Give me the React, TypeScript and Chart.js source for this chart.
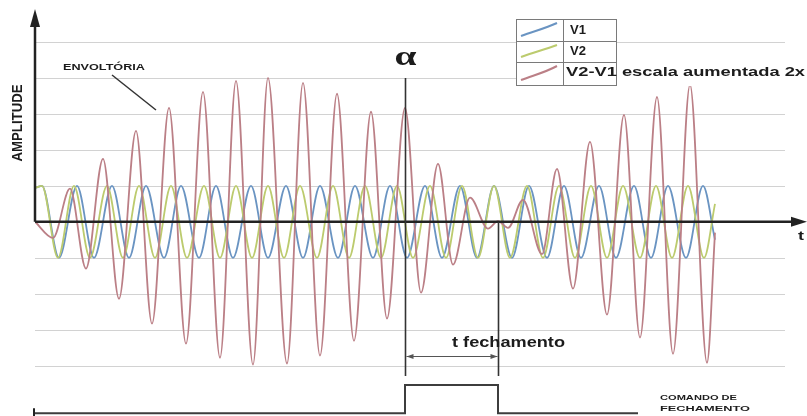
import React, { useEffect, useRef } from 'react';
import { Chart, registerables } from 'chart.js';

Chart.register(...registerables);

// ---- data (time axis in arbitrary units, amplitude in grid units) ----
const v1Times = [1, 7, 24, 42, 59, 77, 94, 111, 129, 146, 164, 181, 198, 216, 233, 251, 268, 285, 303, 320, 338, 355, 372, 390, 407, 425, 442, 459, 477, 494, 512, 529, 546, 564, 581, 599, 616, 633, 651, 668, 680];
const v1Values = [0.95, 1, -1, 1, -1, 1, -1, 1, -1, 1, -1, 1, -1, 1, -1, 1, -1, 1, -1, 1, -1, 1, -1, 1, -1, 1, -1, 1, -1, 1, -1, 1, -1, 1, -1, 1, -1, 1, -1, 1, -0.5];

const v2Times = [1, 7, 23, 39, 55, 72, 88, 104, 120, 136, 152, 169, 185, 201, 217, 233, 249, 265, 282, 298, 314, 330, 346, 362, 378, 395, 411, 427, 443, 459, 475, 492, 508, 524, 540, 556, 572, 588, 605, 621, 637, 653, 669, 680];
const v2Values = [0.95, 1, -1, 1, -1, 1, -1, 1, -1, 1, -1, 1, -1, 1, -1, 1, -1, 1, -1, 1, -1, 1, -1, 1, -1, 1, -1, 1, -1, 1, -1, 1, -1, 1, -1, 1, -1, 1, -1, 1, -1, 1, -1, 0.5];

const diffTimes = [0, 18, 35, 51, 68, 84, 101, 117, 134, 151, 168, 185, 201, 218, 233, 252, 268, 285, 302, 319, 336, 352, 370, 386, 403, 418, 435, 453, 463, 473, 488, 507, 522, 538, 555, 572, 589, 605, 622, 638, 655, 672, 680];
const diffValues = [0, -0.45, 0.92, -1.3, 1.75, -2.14, 2.53, -2.83, 3.17, -3.39, 3.61, -3.78, 3.92, -3.97, 4.0, -3.94, 3.86, -3.72, 3.56, -3.31, 3.06, -2.69, 3.17, -1.97, 1.61, -1.19, 0.67, -0.19, 0.02, -0.17, 0.61, -0.9, 1.47, -1.86, 2.22, -2.58, 2.97, -3.22, 3.47, -3.67, 3.81, -3.92, -0.3];

const commandTimes = [0, 370, 370, 463, 463, 603];
const commandValues = [0, 0, 1, 1, 0, 0];

const alphaTime = 370;
const closeTime = 463;
const gridValues = [-4, -3, -2, -1, 1, 2, 3, 4, 5];
const seriesLabels = ['V1', 'V2', 'V2-V1 escala aumentada 2x'];

// ---- styles ----
const SANS = '"Liberation Sans", Arial, sans-serif';
const SERIF = '"Liberation Serif", "Times New Roman", serif';
const C_V1 = '#6a94c2';
const C_V2 = '#bccb6e';
const C_DIFF = '#bb7f86';
const C_INK = '#1c1c1c';

function pts(t: number[], v: number[]) {
  return t.map((x, i) => ({ x, y: v[i] }));
}

function fitText(
  ctx: CanvasRenderingContext2D,
  text: string,
  x: number,
  y: number,
  size: number,
  width: number,
  opts: { align?: 'left' | 'center'; baseline?: CanvasTextBaseline; family?: string; weight?: string; color?: string; rotate?: number } = {}
) {
  ctx.save();
  ctx.font = `${opts.weight ?? 'bold'} ${size}px ${opts.family ?? SANS}`;
  ctx.fillStyle = opts.color ?? C_INK;
  ctx.textBaseline = opts.baseline ?? 'middle';
  ctx.textAlign = 'left';
  const w = ctx.measureText(text).width;
  ctx.translate(x, y);
  if (opts.rotate) ctx.rotate(opts.rotate);
  ctx.scale(width / w, 1);
  ctx.fillText(text, opts.align === 'center' ? -w / 2 : 0, 0);
  ctx.restore();
}

function tri(ctx: CanvasRenderingContext2D, a: number[], b: number[], c: number[]) {
  ctx.beginPath();
  ctx.moveTo(a[0], a[1]);
  ctx.lineTo(b[0], b[1]);
  ctx.lineTo(c[0], c[1]);
  ctx.closePath();
  ctx.fill();
}

const overlay = {
  id: 'overlay',
  beforeDatasetsDraw(chart: any) {
    const { ctx, scales } = chart;
    const xs = scales.x, ys = scales.y;
    ctx.save();
    ctx.strokeStyle = '#d2d2d2';
    ctx.lineWidth = 1;
    const x0 = xs.getPixelForValue(0);
    const x1 = xs.getPixelForValue(750);
    gridValues.forEach((v) => {
      const py = Math.round(ys.getPixelForValue(v)) + 0.5;
      ctx.beginPath();
      ctx.moveTo(x0, py);
      ctx.lineTo(x1, py);
      ctx.stroke();
    });
    ctx.restore();
  },
  afterDatasetsDraw(chart: any) {
    const { ctx, scales } = chart;
    const xs = scales.x, ys = scales.y, y2 = scales.y2;
    const ox = xs.getPixelForValue(0);
    const oy = ys.getPixelForValue(0);
    ctx.save();

    // axes
    ctx.strokeStyle = '#222';
    ctx.fillStyle = '#222';
    ctx.lineWidth = 2.5;
    ctx.beginPath();
    ctx.moveTo(ox, oy);
    ctx.lineTo(795, oy);
    ctx.stroke();
    tri(ctx, [807, oy], [791, oy - 5], [791, oy + 5]);
    ctx.beginPath();
    ctx.moveTo(ox, oy);
    ctx.lineTo(ox, 24);
    ctx.stroke();
    tri(ctx, [ox, 9], [ox - 5, 27], [ox + 5, 27]);

    // small tick at left end of command baseline
    const cy0 = y2.getPixelForValue(0);
    ctx.lineWidth = 2;
    ctx.beginPath();
    ctx.moveTo(ox - 1, cy0 - 5);
    ctx.lineTo(ox - 1, cy0 + 3);
    ctx.stroke();

    // alpha & closing vertical lines
    const ax = Math.round(xs.getPixelForValue(alphaTime)) + 0.5;
    const cx = Math.round(xs.getPixelForValue(closeTime)) + 0.5;
    const bottom = y2.getPixelForValue(1) - 9;
    ctx.strokeStyle = '#333';
    ctx.lineWidth = 1.6;
    ctx.beginPath();
    ctx.moveTo(ax, ys.getPixelForValue(4));
    ctx.lineTo(ax, bottom);
    ctx.moveTo(cx, oy);
    ctx.lineTo(cx, bottom);
    ctx.stroke();

    // dimension arrow
    const dy = Math.round(ys.getPixelForValue(-3.72)) + 0.5;
    ctx.strokeStyle = '#555';
    ctx.fillStyle = '#555';
    ctx.lineWidth = 1;
    ctx.beginPath();
    ctx.moveTo(ax + 1, dy);
    ctx.lineTo(cx - 1, dy);
    ctx.stroke();
    tri(ctx, [ax + 1, dy], [ax + 8, dy - 2.5], [ax + 8, dy + 2.5]);
    tri(ctx, [cx - 1, dy], [cx - 8, dy - 2.5], [cx - 8, dy + 2.5]);

    // texts
    fitText(ctx, 't fechamento', 452, 343, 14, 113);
    fitText(ctx, 'α', ax, 65, 27, 22, { align: 'center', baseline: 'alphabetic', family: SERIF });
    fitText(ctx, 'ENVOLTÓRIA', 63, 68, 9, 82);
    fitText(ctx, 'AMPLITUDE', 18, 123, 14, 77, { align: 'center', rotate: -Math.PI / 2 });
    fitText(ctx, 't', 801, 237, 12, 6, { align: 'center' });
    fitText(ctx, 'COMANDO DE', 660, 398, 7.5, 77);
    fitText(ctx, 'FECHAMENTO', 660, 409, 7.5, 90);

    // envoltória pointer
    ctx.strokeStyle = '#333';
    ctx.lineWidth = 1.5;
    ctx.beginPath();
    ctx.moveTo(112, 75);
    ctx.lineTo(156, 110);
    ctx.stroke();

    // legend
    ctx.fillStyle = '#fff';
    ctx.fillRect(516, 19, 101, 67);
    ctx.fillRect(617, 63, 190, 23);
    ctx.strokeStyle = '#7a7a7a';
    ctx.lineWidth = 1;
    ctx.strokeRect(516.5, 19.5, 100, 66);
    ctx.beginPath();
    ctx.moveTo(563.5, 19.5);
    ctx.lineTo(563.5, 85.5);
    ctx.moveTo(516.5, 41.5);
    ctx.lineTo(616.5, 41.5);
    ctx.moveTo(516.5, 62.5);
    ctx.lineTo(616.5, 62.5);
    ctx.stroke();
    const rows = [
      { top: 19, color: C_V1 },
      { top: 41, color: C_V2 },
      { top: 62, color: C_DIFF },
    ];
    ctx.lineWidth = 2;
    rows.forEach((r, i) => {
      const bot = i === 0 ? 41 : i === 1 ? 62 : 85;
      ctx.strokeStyle = r.color;
      ctx.beginPath();
      ctx.moveTo(521, bot - 5);
      ctx.bezierCurveTo(534, bot - 10, 544, bot - 12, 557, r.top + 4);
      ctx.stroke();
    });
    fitText(ctx, seriesLabels[0], 570, 31, 12, 16);
    fitText(ctx, seriesLabels[1], 570, 52, 12, 16);
    fitText(ctx, seriesLabels[2], 566, 73, 12, 239);

    ctx.restore();
  },
};

export default function App() {
  const ref = useRef<HTMLCanvasElement>(null);
  useEffect(() => {
    document.body.style.margin = '0';
    const line = (label: string, t: number[], v: number[], color: string, order: number) => ({
      label,
      data: pts(t, v),
      borderColor: color,
      backgroundColor: color,
      borderWidth: 1.8,
      pointRadius: 0,
      cubicInterpolationMode: 'monotone' as const,
      fill: false,
      order,
      yAxisID: 'y',
    });
    const chart = new Chart(ref.current!, {
      type: 'line',
      data: {
        datasets: [
          line(seriesLabels[0], v1Times, v1Values, C_V1, 3),
          line(seriesLabels[1], v2Times, v2Values, C_V2, 2),
          line(seriesLabels[2], diffTimes, diffValues, C_DIFF, 1),
          {
            label: 'COMANDO DE FECHAMENTO',
            data: pts(commandTimes, commandValues),
            borderColor: '#3d3d3d',
            borderWidth: 2,
            pointRadius: 0,
            tension: 0,
            fill: false,
            order: 0,
            yAxisID: 'y2',
          },
        ],
      },
      options: {
        animation: false,
        responsive: false,
        maintainAspectRatio: false,
        devicePixelRatio: 1,
        layout: { padding: { left: 35, right: 2, top: 6, bottom: 0 } },
        scales: {
          x: { type: 'linear', min: 0, max: 770, display: false },
          y: { min: -5.4, max: 6.0, display: false },
          y2: { min: -0.1, max: 14.5, display: false },
        },
        plugins: { legend: { display: false }, tooltip: { enabled: false } },
      },
      plugins: [overlay],
    } as any);
    return () => chart.destroy();
  }, []);
  return (
    <div style={{ width: 807, height: 416, background: '#fff' }}>
      <canvas ref={ref} width={807} height={416} style={{ display: 'block', width: 807, height: 416 }} />
    </div>
  );
}
